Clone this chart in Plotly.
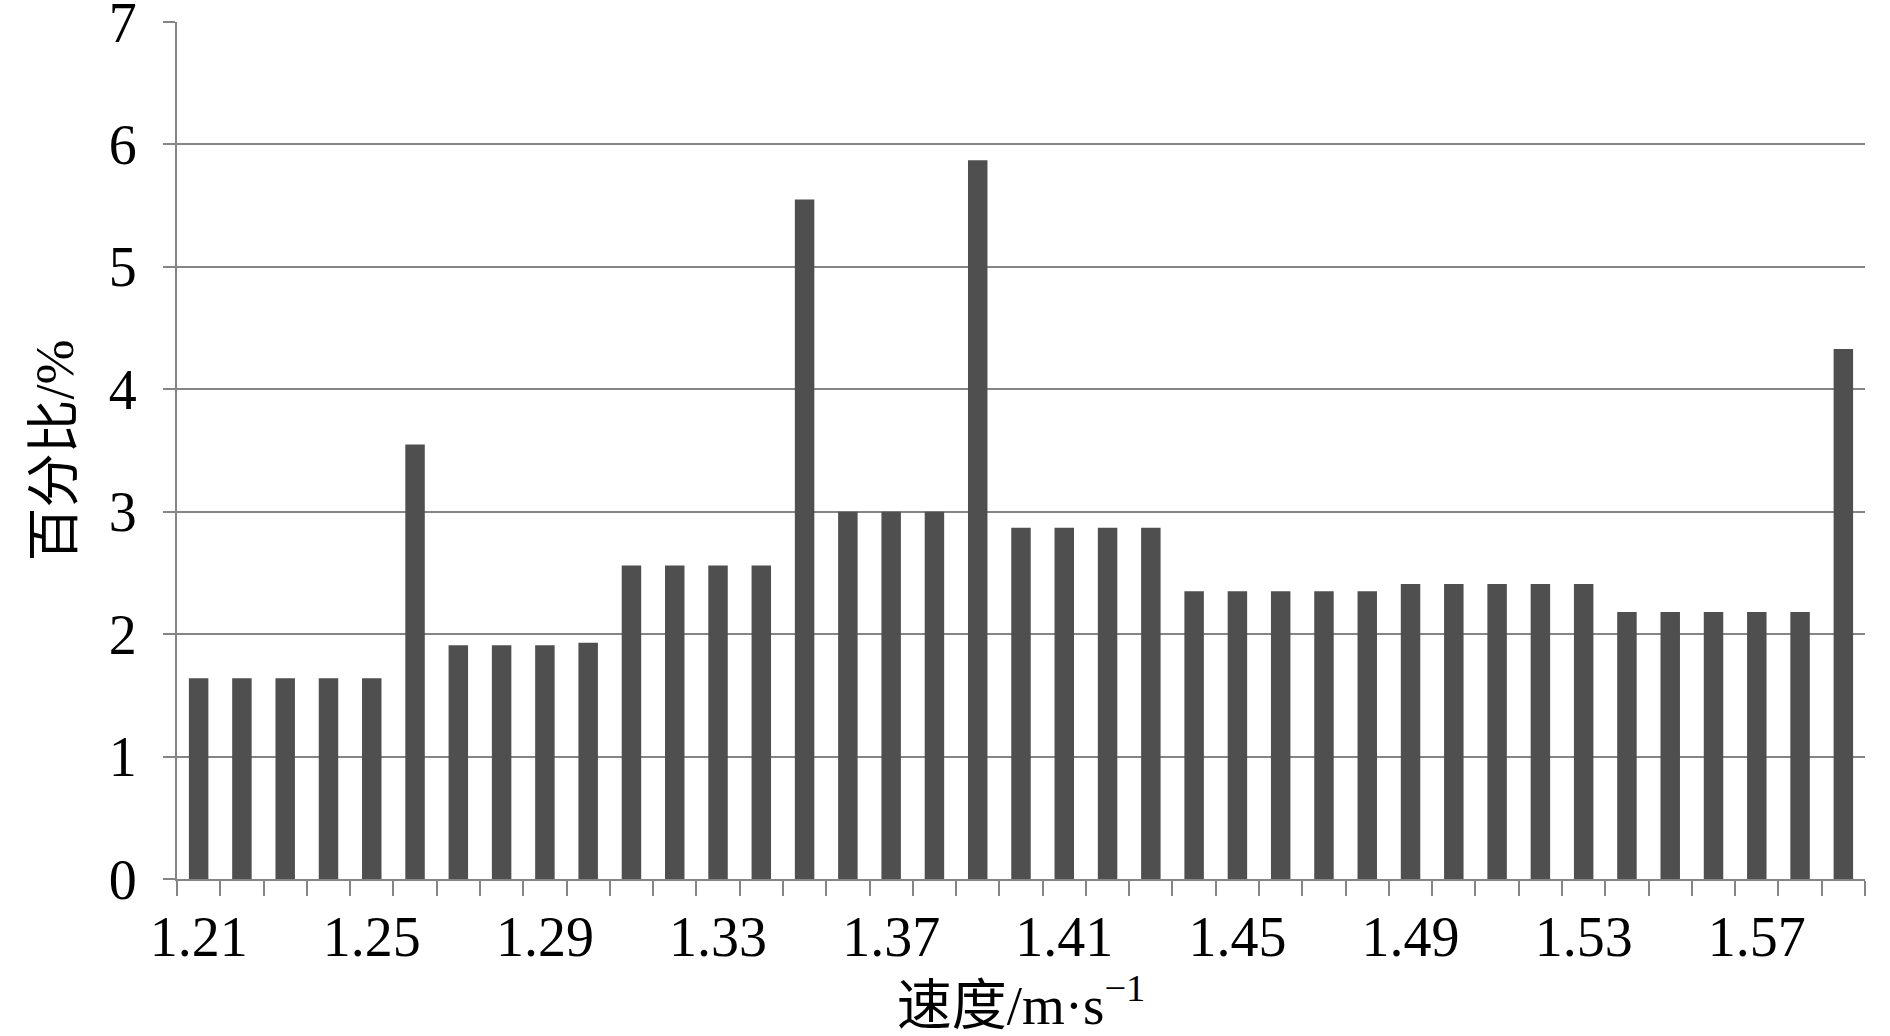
import plotly.graph_objects as go

speeds = [1.21, 1.22, 1.23, 1.24, 1.25, 1.26, 1.27, 1.28, 1.29, 1.30,
          1.31, 1.32, 1.33, 1.34, 1.35, 1.36, 1.37, 1.38, 1.39, 1.40,
          1.41, 1.42, 1.43, 1.44, 1.45, 1.46, 1.47, 1.48, 1.49, 1.50,
          1.51, 1.52, 1.53, 1.54, 1.55, 1.56, 1.57, 1.58, 1.59]
percent = [1.64, 1.64, 1.64, 1.64, 1.64, 3.55, 1.91, 1.91, 1.91, 1.93,
           2.56, 2.56, 2.56, 2.56, 5.55, 3.00, 3.00, 3.00, 5.87, 2.87,
           2.87, 2.87, 2.87, 2.35, 2.35, 2.35, 2.35, 2.35, 2.41, 2.41,
           2.41, 2.41, 2.41, 2.18, 2.18, 2.18, 2.18, 2.18, 4.33]
x_tick_labels = ["1.21", "1.25", "1.29", "1.33", "1.37", "1.41", "1.45", "1.49", "1.53", "1.57"]
y_ticks = [0, 1, 2, 3, 4, 5, 6, 7]

step = 0.01
boundaries = [round(s - step / 2, 3) for s in speeds] + [round(speeds[-1] + step / 2, 3)]

FONT = "Liberation Serif, Times New Roman, Noto Sans CJK SC, serif"
GRID = "#858585"

fig = go.Figure(go.Bar(
    x=speeds, y=percent,
    width=step * 0.45,
    marker=dict(color="#4f4f4f", line=dict(width=0)),
))

fig.update_layout(
    width=1890, height=1036,
    margin=dict(l=177, r=25, t=22, b=157),
    paper_bgcolor="white", plot_bgcolor="white",
    showlegend=False,
    font=dict(family=FONT, color="black"),
    xaxis=dict(
        range=[boundaries[0], boundaries[-1]],
        tickvals=[float(t) for t in x_tick_labels],
        ticktext=x_tick_labels,
        ticks="", showgrid=False,
        showline=True, linecolor=GRID, linewidth=2,
        tickfont=dict(size=56, family=FONT),
        ticklabelstandoff=8,
        minor=dict(tickvals=boundaries, ticks="outside", ticklen=15,
                   tickwidth=2, tickcolor=GRID, showgrid=False),
        title=dict(text="速度/m·s<sup>−1</sup>", font=dict(size=55, family=FONT), standoff=34),
        zeroline=False,
        automargin=False,
    ),
    yaxis=dict(
        range=[0, 7], tickvals=y_ticks,
        ticks="outside", ticklen=12, tickwidth=2, tickcolor=GRID,
        showgrid=True, gridcolor=GRID, gridwidth=2,
        showline=True, linecolor=GRID, linewidth=2,
        tickfont=dict(size=56, family=FONT),
        ticklabelstandoff=15,
        ticklabeloverflow="allow",
        title=dict(text="百分比/%", font=dict(size=54, family=FONT), standoff=18),
        zeroline=False,
        automargin=False,
    ),
)

fig.write_html("out.html", config={"displayModeBar": False},
               post_script="document.body.style.margin='0';")
